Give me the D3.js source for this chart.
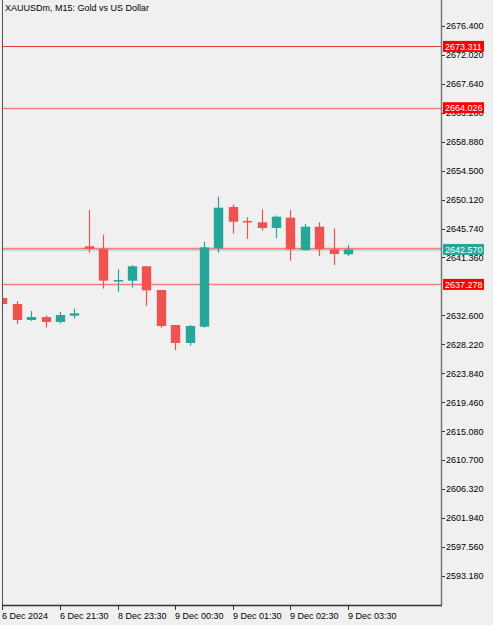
<!DOCTYPE html>
<html>
<head>
<meta charset="utf-8">
<script src="https://cdn.jsdelivr.net/npm/d3@7"></script>
<style>
  body { margin: 0; background: #f0f0f0; }
  svg { display: block; font-family: "Liberation Sans", Arial, sans-serif; }
</style>
</head>
<body>
<script>
// chart data
const title = "XAUUSDm, M15:  Gold vs US Dollar";

const opens  = [2635.22, 2634.31, 2631.89, 2632.34, 2631.59, 2632.54, 2643.05, 2642.64, 2637.87, 2637.84, 2640.02, 2636.43, 2631.13,
                2628.41, 2630.87, 2642.74, 2649.00, 2646.88, 2646.68, 2645.82, 2647.38, 2642.49, 2646.01, 2642.59, 2641.83];
const highs  = [2635.29, 2634.76, 2633.25, 2632.57, 2633.10, 2633.60, 2648.54, 2644.80, 2639.56, 2640.21, 2640.06, 2636.43, 2631.13,
                2631.13, 2643.74, 2650.56, 2649.41, 2647.44, 2648.65, 2647.71, 2648.54, 2646.42, 2646.68, 2645.77, 2643.24];
const lows   = [2634.23, 2631.28, 2631.74, 2630.75, 2631.33, 2632.09, 2642.08, 2636.63, 2636.17, 2636.78, 2634.01, 2630.72, 2627.30,
                2628.00, 2630.72, 2642.08, 2644.95, 2644.15, 2645.41, 2644.26, 2640.87, 2642.38, 2641.58, 2640.22, 2641.58];
const closes = [2634.31, 2631.89, 2632.34, 2631.59, 2632.65, 2632.90, 2642.64, 2637.84, 2637.94, 2640.02, 2636.38, 2630.98, 2628.41,
                2630.98, 2642.89, 2648.89, 2646.77, 2646.65, 2645.82, 2647.53, 2642.59, 2646.01, 2642.59, 2641.88, 2642.57];

// 2636.980 sits under the 2637.278 label, so it is not drawn
const priceTicks = [2676.400, 2672.020, 2667.640, 2663.260, 2658.880, 2654.500, 2650.120, 2645.740, 2641.360,
                    2632.600, 2628.220, 2623.840, 2619.460, 2615.080, 2610.700, 2606.320, 2601.940, 2597.560, 2593.180];

const timeTickIndex = [0, 4, 8, 12, 16, 20, 24];
const timeTickLabels = ["6 Dec 2024", "6 Dec 21:30", "8 Dec 23:30", "9 Dec 00:30", "9 Dec 01:30", "9 Dec 02:30", "9 Dec 03:30"];

// horizontal levels
const levelPrices = [2673.311, 2664.026, 2637.278];
const bidPrice = 2642.570;

const W = 493, H = 625;
const plot = { left: 2, right: 441, top: 0, bottom: 605 };
const up = "#26a69a", down = "#ef5350";

const data = opens.map((o, i) => ({ i: i, o: o, h: highs[i], l: lows[i], c: closes[i] }));

const svg = d3.select("body").append("svg")
    .attr("width", W)
    .attr("height", H);

svg.append("rect").attr("width", W).attr("height", H).attr("fill", "#f0f0f0");

const x = d3.scaleLinear()
    .domain([0, 24])
    .range([2.4, 348]);

const y = d3.scaleLinear()
    .domain([2588.74, 2680.336])
    .range([plot.bottom, plot.top]);

const bodyW = 9.4;

svg.append("clipPath").attr("id", "clip")
    .append("rect")
    .attr("x", plot.left + 1).attr("y", plot.top)
    .attr("width", plot.right - plot.left - 1).attr("height", plot.bottom - plot.top);

const g = svg.append("g").attr("clip-path", "url(#clip)");

// level lines
g.selectAll("line.level")
    .data(levelPrices)
    .enter().append("line")
    .attr("class", "level")
    .attr("x1", plot.left).attr("x2", plot.right)
    .attr("y1", d => Math.round(y(d)) + 0.5).attr("y2", d => Math.round(y(d)) + 0.5)
    .attr("stroke", (d, i) => i == 0 ? "#e8393a" : "#f47c7c")
    .attr("stroke-width", (d, i) => i == 0 ? 1 : 1.5);

// bid line (red over teal)
g.append("line")
    .attr("x1", plot.left).attr("x2", plot.right)
    .attr("y1", Math.round(y(bidPrice)) - 0.5).attr("y2", Math.round(y(bidPrice)) - 0.5)
    .attr("stroke", "#f47c7c").attr("stroke-width", 1.5);
g.append("line")
    .attr("x1", plot.left).attr("x2", plot.right)
    .attr("y1", Math.round(y(bidPrice)) + 1).attr("y2", Math.round(y(bidPrice)) + 1)
    .attr("stroke", "#8fbfb8").attr("stroke-width", 1);

// wicks
g.selectAll("line.wick")
    .data(data)
    .enter().append("line")
    .attr("class", "wick")
    .attr("x1", d => Math.round(x(d.i)) + 0.5).attr("x2", d => Math.round(x(d.i)) + 0.5)
    .attr("y1", d => y(d.h)).attr("y2", d => y(d.l))
    .attr("stroke", d => d.c >= d.o ? up : down)
    .attr("stroke-width", 1.2);

// bodies
g.selectAll("rect.body")
    .data(data)
    .enter().append("rect")
    .attr("class", "body")
    .attr("x", d => Math.round(x(d.i)) + 0.5 - bodyW / 2)
    .attr("width", bodyW)
    .attr("y", d => y(Math.max(d.o, d.c)))
    .attr("height", d => Math.max(1.5, Math.abs(y(d.o) - y(d.c))))
    .attr("fill", d => d.c >= d.o ? up : down);

// frame
svg.append("line").attr("x1", plot.left + 0.5).attr("x2", plot.left + 0.5)
    .attr("y1", 0).attr("y2", plot.bottom).attr("stroke", "#555");
svg.append("line").attr("x1", plot.right + 0.5).attr("x2", plot.right + 0.5)
    .attr("y1", 0).attr("y2", plot.bottom).attr("stroke", "#777").attr("stroke-width", 1.5);
svg.append("line").attr("x1", plot.left).attr("x2", plot.right + 1)
    .attr("y1", plot.bottom + 0.5).attr("y2", plot.bottom + 0.5).attr("stroke", "#333").attr("stroke-width", 1.5);

// right price axis
const yAxis = svg.append("g").attr("font-size", 9).attr("fill", "#000");
yAxis.selectAll("line")
    .data(priceTicks)
    .enter().append("line")
    .attr("x1", plot.right + 1).attr("x2", plot.right + 4)
    .attr("y1", d => Math.round(y(d)) + 0.5).attr("y2", d => Math.round(y(d)) + 0.5)
    .attr("stroke", "#333");
yAxis.selectAll("text")
    .data(priceTicks)
    .enter().append("text")
    .attr("x", plot.right + 5)
    .attr("y", d => y(d) + 3.5)
    .text(d => d.toFixed(3));

// price labels for level lines
function priceLabel(p, fill) {
    const cy = y(p);
    svg.append("rect")
        .attr("x", plot.right + 2).attr("y", cy - 5.5)
        .attr("width", 41).attr("height", 11)
        .attr("fill", fill);
    svg.append("text")
        .attr("x", plot.right + 4).attr("y", cy + 3.5)
        .attr("font-size", 9)
        .attr("fill", "#fff")
        .text(p.toFixed(3));
}
levelPrices.forEach(p => priceLabel(p, "#ff0000"));
priceLabel(bidPrice, up);

// bottom time axis
const xAxis = svg.append("g").attr("font-size", 9);
xAxis.selectAll("line")
    .data(timeTickIndex)
    .enter().append("line")
    .attr("x1", d => Math.round(x(d)) + 0.5).attr("x2", d => Math.round(x(d)) + 0.5)
    .attr("y1", plot.bottom).attr("y2", plot.bottom + 5)
    .attr("stroke", "#333");
xAxis.selectAll("text")
    .data(timeTickIndex)
    .enter().append("text")
    .attr("x", d => Math.round(x(d)))
    .attr("y", plot.bottom + 14)
    .text((d, i) => timeTickLabels[i]);

// title
svg.append("text")
    .attr("x", 5).attr("y", 11)
    .attr("font-size", 9)
    .text(title);
</script>
</body>
</html>
